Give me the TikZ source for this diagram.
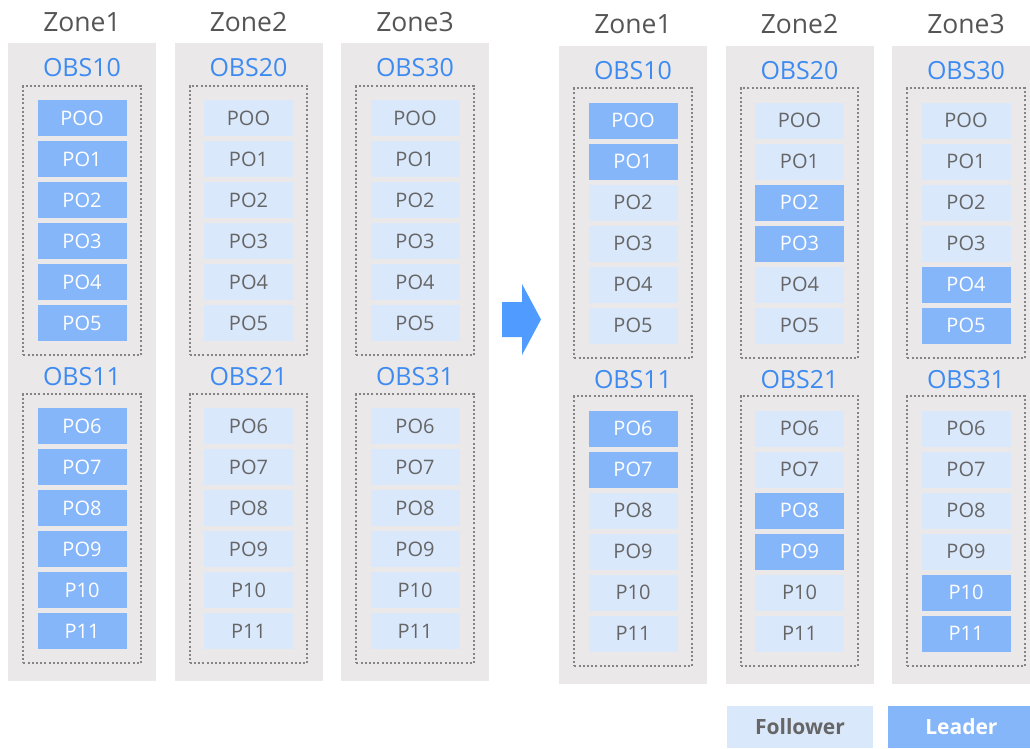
\documentclass[tikz,border=0pt]{standalone}
\usepackage{fontspec}
\setmainfont{Open Sans}
\usetikzlibrary{positioning,fit,calc}
\definecolor{zonebg}{HTML}{EAE8E9}
\definecolor{follow}{HTML}{DAE8FC}
\definecolor{lead}{HTML}{86B6FA}
\definecolor{obsblue}{HTML}{3D8BF2}
\definecolor{txt}{HTML}{666666}
\definecolor{zonetxt}{HTML}{555555}
\definecolor{dotline}{HTML}{858585}
\definecolor{arrowblue}{HTML}{4F9BFF}

\begin{document}
\begin{tikzpicture}[
  x=1pt,y=-1pt,
  zonebox/.style={fill=zonebg, inner sep=0, minimum width=148pt, minimum height=638pt},
  zonelabel/.style={font=\fontsize{26.5}{30}\selectfont, text=zonetxt},
  obslabel/.style={font=\fontsize{25}{28}\selectfont, text=obsblue},
  pbox/.style={minimum width=89pt, minimum height=36pt, inner sep=0, font=\fontsize{20}{24}\selectfont},
  follower/.style={pbox, fill=follow, text=txt},
  leader/.style={pbox, fill=lead, text=white},
  group/.style={draw=dotline, line width=2pt, dash pattern=on 2pt off 2.2pt, inner xsep=14pt, inner ysep=14pt},
  legendbox/.style={minimum width=146pt, minimum height=42pt, inner sep=0, font=\fontsize{21}{25}\selectfont\bfseries},
]
\useasboundingbox (0,0) rectangle (1030,748);
% --- before (L) and after (R): three zones, two OBS groups each ---
\foreach \side/\xo/\yo/\mode in {L/0/0/0, R/551/2.5/1} {
  \foreach \z in {1,2,3} {
    \pgfmathsetmacro{\cx}{\xo+82+(\z-1)*166.5}
    \node[zonebox] (\side z\z) at (\cx,\yo+362) {};
    \node[zonelabel] (\side zl\z) at (\cx,\yo+22) {Zone\z};
    \foreach \g in {0,1} {
      \node[obslabel] (\side obs\z\g) at (\cx,\yo+68+\g*309) {OBS\z\g};
      \foreach \p/\lab in {0/POO,1/PO1,2/PO2,3/PO3,4/PO4,5/PO5,6/PO6,7/PO7,8/PO8,9/PO9,10/P10,11/P11} {
        \pgfmathtruncatemacro{\grp}{int(\p/6)}
        \ifnum\grp=\g
          \pgfmathtruncatemacro{\own}{\mode==0 ? 1 : int(mod(\p,6)/2)+1}
          \ifnum\own=\z \def\role{leader}\else\def\role{follower}\fi
          \pgfmathsetmacro{\cy}{\yo+118+mod(\p,6)*41+\g*308}
          \node[\role] (\side\z p\p) at (\cx,\cy) {\lab};
        \fi
      }
      \pgfmathtruncatemacro{\pa}{6*\g}
      \pgfmathtruncatemacro{\pb}{6*\g+5}
      \node[group, fit=(\side\z p\pa) (\side\z p\pb)] (\side grp\z\g) {};
    }
  }
}
% --- arrow between the two states ---
\fill[arrowblue] (502,302) -- (522,302) -- (522,284) -- (541,319.5) -- (522,355) -- (522,337) -- (502,337) -- cycle;
% legend
\node[legendbox, fill=follow, text=txt] (legf) at (800,727) {Follower};
\node[legendbox, fill=lead, text=white, right=15pt of legf] (legl) {Leader};
\end{tikzpicture}
\end{document}
